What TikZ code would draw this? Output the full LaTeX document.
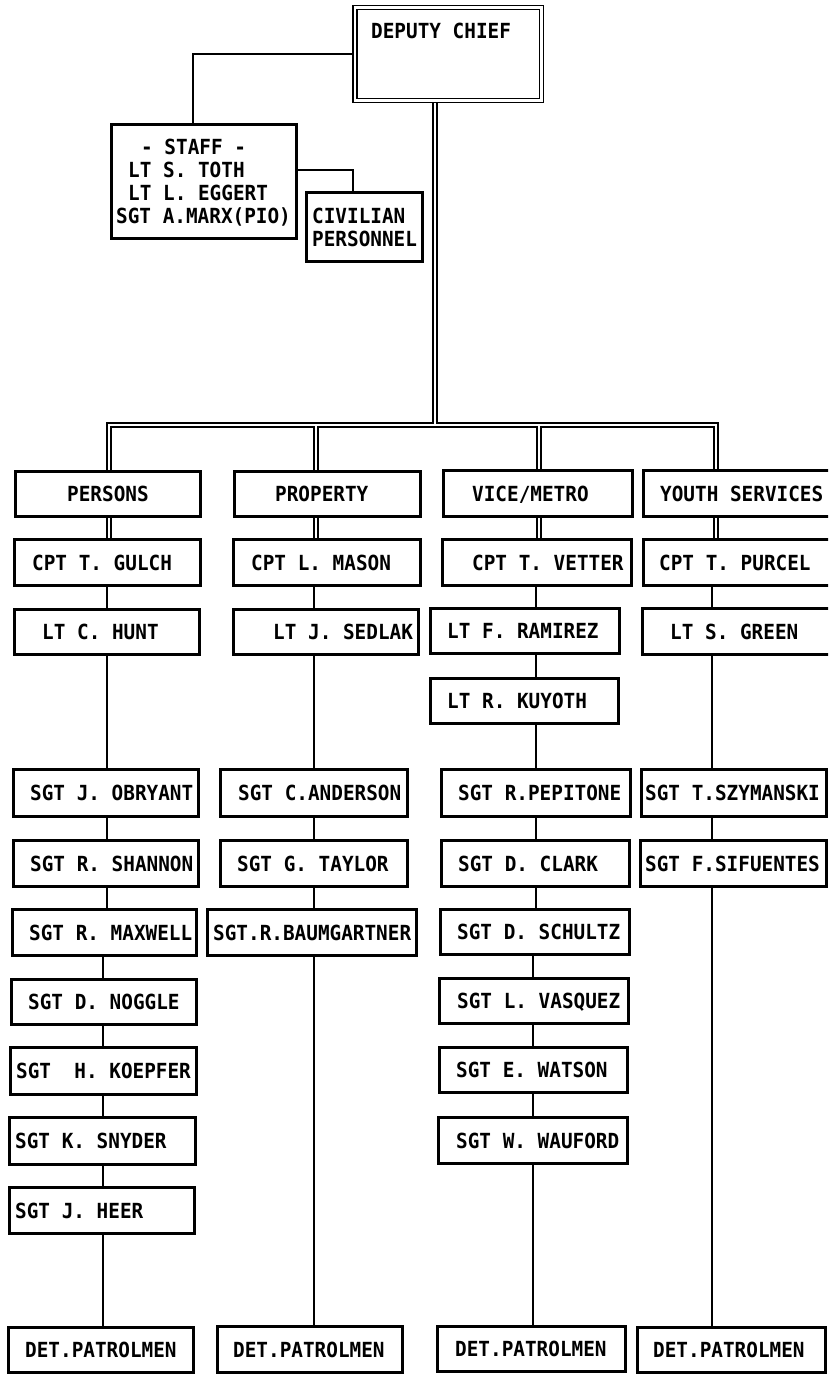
\documentclass[tikz,border=0pt]{standalone}
\usepackage{fontspec}
\newfontfamily\plotfont{DejaVu Sans Mono}[FakeStretch=0.93]
\pgfdeclarelayer{bg}
\pgfsetlayers{bg,main}
\tikzset{
  orgbox/.style={draw, line width=2.2pt, rectangle, inner sep=0pt},
  orgtxt/.style={font=\plotfont\bfseries\fontsize{20.8}{24}\selectfont\frenchspacing, inner sep=0pt, anchor=base west},
  conn/.style={line width=2.1pt},
  dblout/.style={line width=6pt, miter limit=10},
  dblin/.style={line width=2pt, white, miter limit=10},
}
\newcommand\obox[7]{%
  \node[orgbox, minimum width={#3-#2-1}, minimum height={#5-#4-1}] (#1) at ({(#2+#3)/2},{(#4+#5)/2}) {};
  \node[orgtxt] (#1t) at ({#6-1},{(#4+#5)/2+7.5}) {#7};
}
\newcommand\lnk[3]{\draw[conn] (#1.south -| #3) -- (#2.north -| #3);}
\newcommand\dblnet[1]{%
  \draw[#1] (dc.south -| cDC) -- (cDC);
  \draw[#1] (persons.north -| barL) -- (barL) -- (barR) -- (youth.north -| barR);
  \draw[#1] (persons.south -| barL) -- (gulch.north -| barL);
  \draw[#1] (d2) -- (property.north -| d2);
  \draw[#1] (property.south -| d2) -- (mason.north -| d2);
  \draw[#1] (d3) -- (vice.north -| d3);
  \draw[#1] (vice.south -| d3) -- (vetter.north -| d3);
  \draw[#1] (youth.south -| barR) -- (purcel.north -| barR);
}
\begin{document}
\begin{tikzpicture}[x=1pt,y=-1pt]
\useasboundingbox (0,0) rectangle (828,1374);
\clip (0,0) rectangle (828,1374);

% top
\node[draw, double, double distance=2.5pt, line width=1.7pt, minimum width=186.5, minimum height=93, inner sep=0pt] (dc) at (448.25,54) {};
\node[orgtxt] (dct) at (371,38.5) {DEPUTY CHIEF};

\node[orgbox, minimum width=185, minimum height=114] (staff) at (204,181.5) {};
\node[orgtxt] (staff1) at (141,154.5) {- STAFF -};
\node[orgtxt] (staff2) at (128,177.5) {LT S. TOTH};
\node[orgtxt] (staff3) at (128,200.5) {LT L. EGGERT};
\node[orgtxt] (staff4) at (116,223.5) {SGT A.MARX(PIO)};

\node[orgbox, minimum width=116, minimum height=69] (civ) at (364.5,227) {};
\node[orgtxt] (civ1) at (312,223.5) {CIVILIAN};
\node[orgtxt] (civ2) at (312,246.5) {PERSONNEL};

% column 1
\obox{persons}{15}{201}{471}{517}{68}{PERSONS}
\obox{gulch}{14}{201}{539}{586}{33}{CPT T. GULCH}
\obox{hunt}{14}{200}{609}{655}{43}{LT C. HUNT}
\obox{obryant}{13}{199}{769}{817}{31}{SGT J. OBRYANT}
\obox{shannon}{13}{199}{840}{887}{31}{SGT R. SHANNON}
\obox{maxwell}{12}{197}{909}{956}{30}{SGT R. MAXWELL}
\obox{noggle}{11}{197}{979}{1025}{29}{SGT D. NOGGLE}
\obox{koepfer}{10}{197}{1047}{1095}{17}{SGT\ \ H. KOEPFER}
\obox{snyder}{9}{196}{1117}{1165}{16}{SGT K. SNYDER}
\obox{heer}{9}{195}{1187}{1234}{16}{SGT J. HEER}
\obox{detA}{8}{194}{1327}{1373}{26}{DET.PATROLMEN}

% column 2
\obox{property}{234}{421}{471}{517}{276}{PROPERTY}
\obox{mason}{233}{421}{539}{586}{252}{CPT L. MASON}
\obox{sedlak}{233}{419}{609}{655}{274}{LT J. SEDLAK}
\obox{anderson}{220}{408}{769}{817}{239}{SGT C.ANDERSON}
\obox{taylor}{220}{408}{840}{887}{238}{SGT G. TAYLOR}
\obox{baum}{207}{417}{909}{956}{214}{SGT.R.BAUMGARTNER}
\obox{detB}{217}{403}{1326}{1373}{234}{DET.PATROLMEN}

% column 3
\obox{vice}{443}{633}{470}{517}{473}{VICE/METRO}
\obox{vetter}{442}{632}{539}{586}{473}{CPT T. VETTER}
\obox{ramirez}{430}{620}{608}{654}{448}{LT F. RAMIREZ}
\obox{kuyoth}{430}{619}{678}{724}{448}{LT R. KUYOTH}
\obox{pepitone}{441}{631}{769}{817}{459}{SGT R.PEPITONE}
\obox{clark}{441}{630}{840}{887}{459}{SGT D. CLARK}
\obox{schultz}{440}{630}{909}{955}{458}{SGT D. SCHULTZ}
\obox{vasquez}{439}{629}{978}{1024}{458}{SGT L. VASQUEZ}
\obox{watson}{439}{628}{1047}{1093}{457}{SGT E. WATSON}
\obox{wauford}{438}{628}{1117}{1164}{457}{SGT W. WAUFORD}
\obox{detC}{437}{626}{1326}{1372}{456}{DET.PATROLMEN}

% column 4
\obox{youth}{643}{836}{470}{517}{661}{YOUTH SERVICES}
\obox{purcel}{643}{836}{539}{586}{660}{CPT T. PURCEL}
\obox{green}{642}{836}{608}{655}{671}{LT S. GREEN}
\obox{szym}{641}{827}{769}{817}{646}{SGT T.SZYMANSKI}
\obox{sif}{640}{827}{840}{887}{646}{SGT F.SIFUENTES}
\obox{detD}{637}{826}{1327}{1373}{654}{DET.PATROLMEN}

% connector columns
\coordinate (cDC) at (434.5,424.5);
\coordinate (barL) at (109,424.5);
\coordinate (barR) at (716,424.5);
\coordinate (d2) at (316,424.5);
\coordinate (d3) at (538.5,424.5);
\coordinate (k1a) at (107,0);
\coordinate (k1b) at (103,0);
\coordinate (k2) at (314,0);
\coordinate (k3a) at (536,0);
\coordinate (k3b) at (533,0);
\coordinate (k4) at (712,0);

\begin{pgfonlayer}{bg}
  \fill[white] (0,0) rectangle (828,1374);
  \draw[conn] (dc.west) -| ([xshift=-11pt]staff.north);
  \draw[conn] ([yshift=11.5pt]staff.east) -| ([xshift=-11.5pt]civ.north);
  \dblnet{dblout}
  \dblnet{dblin}
  \lnk{gulch}{hunt}{k1a}
  \lnk{hunt}{obryant}{k1a}
  \lnk{obryant}{shannon}{k1a}
  \lnk{shannon}{maxwell}{k1a}
  \lnk{maxwell}{noggle}{k1b}
  \lnk{noggle}{koepfer}{k1b}
  \lnk{koepfer}{snyder}{k1b}
  \lnk{snyder}{heer}{k1b}
  \lnk{heer}{detA}{k1b}
  \lnk{mason}{sedlak}{k2}
  \lnk{sedlak}{anderson}{k2}
  \lnk{anderson}{taylor}{k2}
  \lnk{taylor}{baum}{k2}
  \lnk{baum}{detB}{k2}
  \lnk{vetter}{ramirez}{k3a}
  \lnk{ramirez}{kuyoth}{k3a}
  \lnk{kuyoth}{pepitone}{k3a}
  \lnk{pepitone}{clark}{k3a}
  \lnk{clark}{schultz}{k3a}
  \lnk{schultz}{vasquez}{k3b}
  \lnk{vasquez}{watson}{k3b}
  \lnk{watson}{wauford}{k3b}
  \lnk{wauford}{detC}{k3b}
  \lnk{purcel}{green}{k4}
  \lnk{green}{szym}{k4}
  \lnk{szym}{sif}{k4}
  \lnk{sif}{detD}{k4}
\end{pgfonlayer}
\end{tikzpicture}
\end{document}
